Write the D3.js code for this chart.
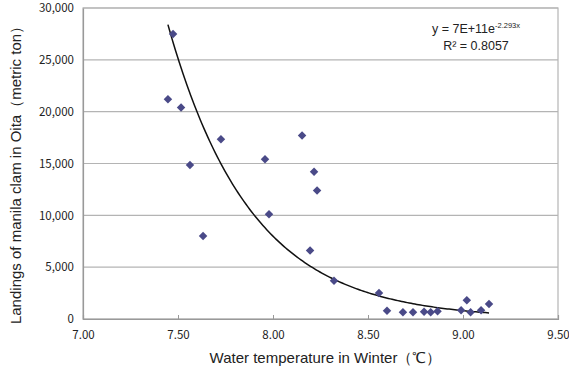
<!DOCTYPE html>
<html>
<head>
<meta charset="utf-8">
<script src="https://cdn.jsdelivr.net/npm/d3@7"></script>
<style>
  body { margin: 0; background: #fff; }
  svg text { font-family: "Noto Sans CJK JP", "DejaVu Sans", sans-serif; fill: #222; }
  svg text.title { font-family: "Liberation Sans", Arial, sans-serif; }
</style>
</head>
<body>
<div id="chart"></div>
<script>
// winter water temperature (°C) and landings (metric ton)
const temps = [7.474, 7.447, 7.516, 7.563, 7.632, 7.726, 7.958, 7.979, 8.153, 8.216,
               8.232, 8.195, 8.321, 8.558, 8.600, 8.684, 8.737, 8.795, 8.830, 8.866,
               8.990, 9.020, 9.040, 9.095, 9.137];
const landings = [27500, 21200, 20400, 14850, 8000, 17350, 15400, 10100, 17700, 14200,
                  12400, 6600, 3700, 2500, 800, 650, 650, 700, 650, 750,
                  850, 1800, 650, 850, 1450];
const xTicks = [7.0, 7.5, 8.0, 8.5, 9.0, 9.5];
const yTicks = [0, 5000, 10000, 15000, 20000, 25000, 30000];

// exponential trendline y = a * e^(b x)
const trendA = 7.4e11;
const trendB = -2.293;

let margin = {top: 8, right: 11, bottom: 50, left: 83};
let width = 569 - margin.left - margin.right;
let height = 369 - margin.top - margin.bottom;

let svg = d3.select("#chart").append("svg")
    .attr("width", 569)
    .attr("height", 369)
    .append("g")
    .attr("transform", `translate(${margin.left}, ${margin.top})`);

let x = d3.scaleLinear().domain([7.0, 9.5]).range([0, width]);
let y = d3.scaleLinear().domain([0, 30000]).range([height, 0]);

// gridlines
svg.append("g")
    .selectAll("line")
    .data(yTicks)
    .join("line")
    .attr("x1", 0)
    .attr("x2", width)
    .attr("y1", d => y(d))
    .attr("y2", d => y(d))
    .attr("stroke", "#b4b4b4")
    .attr("stroke-width", 1.2);

// plot frame
svg.append("rect")
    .attr("x", 0)
    .attr("y", 0)
    .attr("width", width)
    .attr("height", height)
    .attr("fill", "none")
    .attr("stroke", "#b4b4b4")
    .attr("stroke-width", 1.2);

// axes
let xAxis = svg.append("g")
    .attr("transform", `translate(0, ${height})`)
    .call(d3.axisBottom(x).tickValues(xTicks).tickFormat(d3.format(".2f")).tickSize(-4).tickPadding(12));
xAxis.select(".domain").attr("stroke", "#999").attr("stroke-width", 1.2);
xAxis.selectAll(".tick line").attr("stroke", "#999");
xAxis.selectAll("text").attr("font-size", 11.5).style("fill", "#222");

let yAxis = svg.append("g")
    .call(d3.axisLeft(y).tickValues(yTicks).tickFormat(d3.format(",")).tickSize(0).tickPadding(9));
yAxis.select(".domain").attr("stroke", "#999").attr("stroke-width", 1.2);
yAxis.selectAll("text").attr("font-size", 11.5).style("fill", "#222");

// trendline
let xs = d3.range(d3.min(temps), d3.max(temps) + 0.001, 0.01);
let line = d3.line()
    .x(d => x(d))
    .y(d => y(trendA * Math.exp(trendB * d)))
    .curve(d3.curveLinear);

svg.append("path")
    .datum(xs)
    .attr("d", line)
    .attr("fill", "none")
    .attr("stroke", "#111")
    .attr("stroke-width", 1.5);

// points
svg.append("g")
    .selectAll("path")
    .data(d3.zip(temps, landings))
    .join("path")
    .attr("d", d3.symbol().type(d3.symbolSquare).size(36))
    .attr("transform", d => `translate(${x(d[0])}, ${y(d[1])}) rotate(45)`)
    .attr("fill", "#4a4a88");

// equation
svg.append("text")
    .attr("class", "title")
    .attr("x", 393)
    .attr("y", 25)
    .attr("text-anchor", "middle")
    .attr("font-size", 12.5)
    .html('y = 7E+11e<tspan font-size="7.5" dy="-5">-2.293x</tspan>');

svg.append("text")
    .attr("class", "title")
    .attr("x", 393)
    .attr("y", 42)
    .attr("text-anchor", "middle")
    .attr("font-size", 12.5)
    .text("R² = 0.8057");

// axis titles
svg.append("text")
    .attr("class", "title")
    .attr("x", width / 2 + 5)
    .attr("y", height + 44)
    .attr("text-anchor", "middle")
    .attr("font-size", 15)
    .text("Water temperature in Winter（℃）");

svg.append("text")
    .attr("class", "title")
    .attr("transform", `translate(${-62}, ${height / 2 + 8}) rotate(-90)`)
    .attr("text-anchor", "middle")
    .attr("font-size", 15)
    .text("Landings of manila clam in Oita（metric ton）");
</script>
</body>
</html>
